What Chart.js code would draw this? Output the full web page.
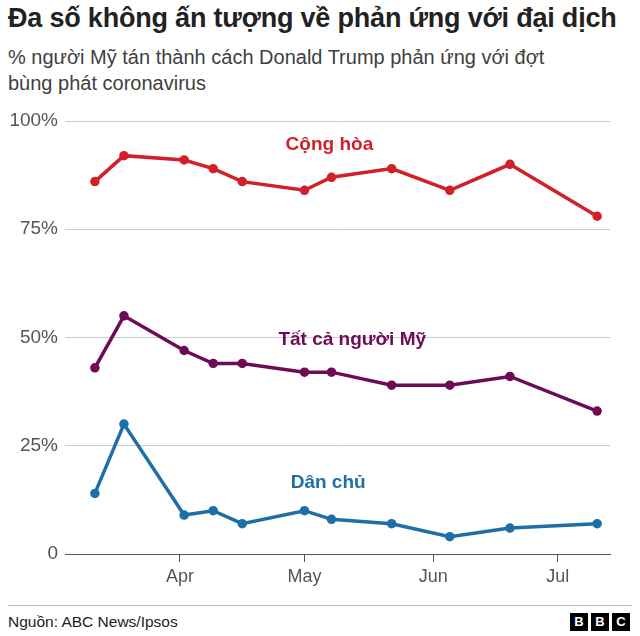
<!DOCTYPE html>
<html><head><meta charset="utf-8">
<script src="https://cdn.jsdelivr.net/npm/chart.js@4/dist/chart.umd.min.js"></script>
<style>
body{margin:0;width:640px;height:636px;background:#fff;font-family:"Liberation Sans",Arial,sans-serif;position:relative;overflow:hidden}
#t{position:absolute;left:8px;top:3px;font-size:27px;font-weight:bold;color:#222;letter-spacing:-0.2px;white-space:nowrap}
#s{position:absolute;left:8px;top:44px;font-size:20px;color:#404040;line-height:26px}
#w{position:absolute;left:0;top:100px;width:640px;height:490px}
#f{position:absolute;left:8px;right:8px;top:605px;border-top:1px solid #bbb}
#src{position:absolute;left:8px;top:613px;font-size:15.5px;color:#222}
#bbc{position:absolute;right:10px;top:613px;display:flex;gap:3px}
#bbc span{background:#000;color:#fff;font-weight:bold;font-size:13px;width:18px;height:18px;line-height:18px;text-align:center}
</style></head><body>
<div id="t">Đa số không ấn tượng về phản ứng với đại dịch</div>
<div id="s">% người Mỹ tán thành cách Donald Trump phản ứng với đợt<br>bùng phát coronavirus</div>
<div id="w"><canvas id="c"></canvas></div>
<div id="f"></div>
<div id="src">Nguồn: ABC News/Ipsos</div>
<div id="bbc"><span>B</span><span>B</span><span>C</span></div>
<script>
// days counted from 1 March 2020
const days = [10.5, 17.5, 32, 39, 46, 61, 67.5, 82, 96, 110.5, 131.5];
const republicans = [86, 92, 91, 89, 86, 84, 87, 89, 84, 90, 78];
const allAmericans = [43, 55, 47, 44, 44, 42, 42, 39, 39, 41, 33];
const democrats = [14, 30, 9, 10, 7, 10, 8, 7, 4, 6, 7];
const monthDays = [31, 61, 92, 122];
const monthLabels = ['Apr', 'May', 'Jun', 'Jul'];
const yTicks = [0, 25, 50, 75, 100];
const yLabels = ['0', '25%', '50%', '75%', '100%'];
const seriesNames = ['Cộng hòa', 'Tất cả người Mỹ', 'Dân chủ'];
const labelPos = [[67, 94.5], [72.5, 49.4], [66.7, 16.4]];
const colors = ['#d0202a', '#6d0b55', '#1d6fa5'];

const pts = v => days.map((d, i) => ({x: d, y: v[i]}));
const mk = (v, i) => ({data: pts(v), borderColor: colors[i], backgroundColor: colors[i],
  borderWidth: 3.5, pointRadius: 3, pointHoverRadius: 3, tension: 0});

const labelsPlugin = {
  id: 'lbl',
  afterDatasetsDraw(chart) {
    const {ctx, scales: {x, y}} = chart;
    ctx.save();
    ctx.font = 'bold 19px "Liberation Sans", Arial';
    ctx.textAlign = 'center'; ctx.textBaseline = 'middle';
    seriesNames.forEach((n, i) => {
      ctx.fillStyle = colors[i];
      ctx.fillText(n, x.getPixelForValue(labelPos[i][0]), y.getPixelForValue(labelPos[i][1]));
    });
    ctx.restore();
  }
};

new Chart(document.getElementById('c'), {
  type: 'line',
  data: {datasets: [mk(republicans, 0), mk(allAmericans, 1), mk(democrats, 2)]},
  plugins: [labelsPlugin],
  options: {
    responsive: true, maintainAspectRatio: false, animation: false,
    layout: {padding: {top: 21, right: 30, left: 0, bottom: 0}},
    plugins: {legend: {display: false}, tooltip: {enabled: false}},
    scales: {
      x: {
        type: 'linear', min: 3.3, max: 134.6,
        afterBuildTicks: s => { s.ticks = monthDays.map(v => ({value: v})); },
        afterFit: s => { s.height = 36; },
        ticks: {callback: (v) => monthLabels[monthDays.indexOf(v)], color: '#555',
          font: {size: 18, family: '"Liberation Sans", Arial'}, maxRotation: 0, padding: 4},
        grid: {drawOnChartArea: false, color: '#555', tickLength: 8},
        border: {color: '#555', width: 1}
      },
      y: {
        min: 0, max: 100,
        afterBuildTicks: s => { s.ticks = yTicks.map(v => ({value: v})); },
        afterFit: s => { s.width = 65; },
        ticks: {callback: v => yLabels[yTicks.indexOf(v)], color: '#555', padding: 7,
          font: {size: 19, family: '"Liberation Sans", Arial'}},
        grid: {color: '#ccc', drawTicks: false},
        border: {display: false}
      }
    }
  }
});
</script>
</body></html>
